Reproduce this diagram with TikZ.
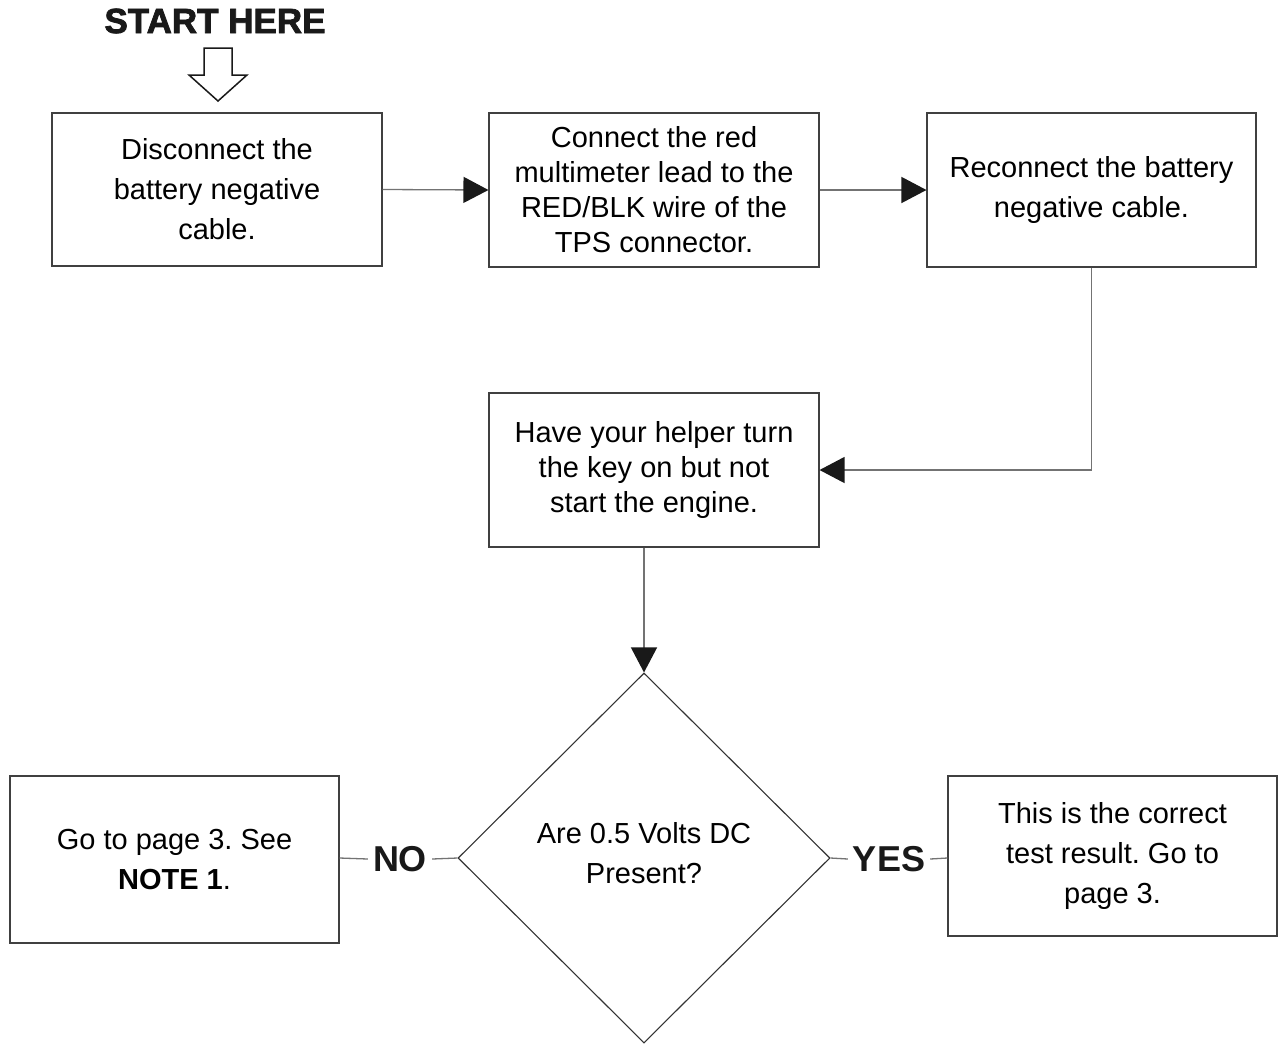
\documentclass[tikz,border=0pt]{standalone}
\usepackage{fontspec}
\setmainfont{Liberation Sans}
\newfontfamily\heavyfont[FakeBold=2.2]{Liberation Sans Bold}
\usetikzlibrary{arrows.meta,shapes.geometric}
\frenchspacing
\begin{document}
\begin{tikzpicture}[x=1pt,y=-1pt,
  stepbox/.style={draw=black!75,line width=1.1pt,align=center,inner sep=0pt,
    font=\fontsize{29}{40}\selectfont},
  tightbox/.style={stepbox,font=\fontsize{29}{35}\selectfont},
  decision/.style={draw=black!80,line width=1.1pt,shape=diamond,aspect=1,inner sep=0pt},
  flow/.style={draw=black!55,line width=1.3pt,
    -{Triangle[length=25pt,width=26pt,color=black!90,fill=black!90]}},
  link/.style={draw=black!55,line width=1.3pt},
  answer/.style={font=\fontsize{36}{40}\bfseries\selectfont,inner sep=0pt,text=black!90}]
\useasboundingbox[fill=white] (0,0) rectangle (1279,1045);

% heading and the hollow start arrow
\node[font=\heavyfont\fontsize{35}{40}\selectfont,text=black!90] (start) at (215,21) {START HERE};
\draw[line width=1.5pt,draw=black!90,line join=miter]
  (204,48) -- (232,48) -- (232,75) -- (247,75) -- (218,101) -- (189,75) -- (204,75) -- cycle;

% process steps
\node[stepbox,minimum width=330,minimum height=153] (b1) at (217,189.5)
  {Disconnect the\\battery negative\\cable.};
\node[tightbox,minimum width=330,minimum height=154] (b2) at (654,190)
  {Connect the red\\multimeter lead to the\\RED/BLK wire of the\\TPS connector.};
\node[stepbox,minimum width=329,minimum height=154] (b3) at (1091.5,190)
  {Reconnect the battery\\negative cable.};
\node[tightbox,minimum width=330,minimum height=154] (b4) at (654,470)
  {Have your helper turn\\the key on but not\\start the engine.};

% decision and outcomes
\node[decision,minimum width=372,minimum height=370] (dia) at (644,858) {};
\node[font=\fontsize{29}{40}\selectfont,align=center] (q) at (644,853)
  {Are 0.5 Volts DC\\Present?};
\node[stepbox,minimum width=329,minimum height=167] (no) at (174.5,859.5)
  {Go to page 3. See\\\textbf{NOTE 1}.};
\node[stepbox,minimum width=329,minimum height=160] (yes) at (1112.5,856)
  {This is the correct\\test result. Go to\\page 3.};

\node[answer] (nolab) at (400,859) {NO};
\node[answer] (yeslab) at (889,859) {YES};

% connectors
\draw[flow] (b1.east) -- (b2.west);
\draw[flow] (b2.east) -- (b3.west);
\draw[flow] (b3.south) |- (b4.east);
\draw[flow] (dia.north |- b4.south) -- (dia.north);
\draw[link] (no.east |- dia.west) -- ([xshift=-5pt]nolab.west);
\draw[link] ([xshift=5pt]nolab.east) -- (dia.west);
\draw[link] (dia.east) -- ([xshift=-5pt]yeslab.west);
\draw[link] ([xshift=5pt]yeslab.east) -- (yes.west |- dia.east);
\end{tikzpicture}
\end{document}
